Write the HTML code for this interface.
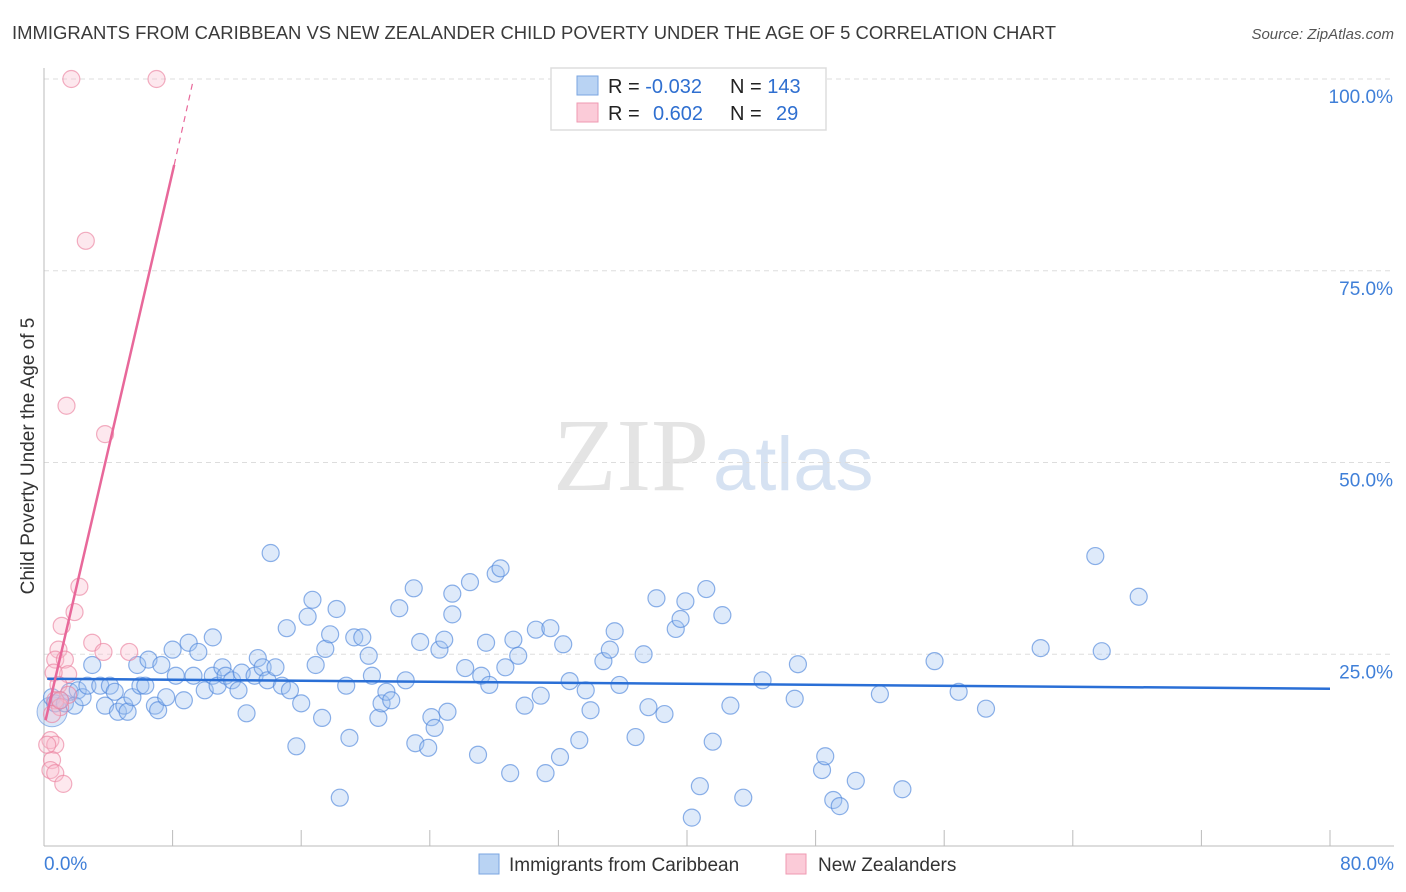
<!DOCTYPE html>
<html><head><meta charset="utf-8"><style>
body{margin:0;background:#fff;font-family:"Liberation Sans",sans-serif;}
svg{display:block}
</style></head><body>
<svg id="chart" width="1406" height="892">
<text x="12" y="39" font-size="18" fill="#3a3a3a" textLength="1044" lengthAdjust="spacingAndGlyphs">IMMIGRANTS FROM CARIBBEAN VS NEW ZEALANDER CHILD POVERTY UNDER THE AGE OF 5 CORRELATION CHART</text>
<text x="1394" y="39" font-size="15" fill="#555" font-style="italic" text-anchor="end">Source: ZipAtlas.com</text>
<text x="553" y="490" font-size="104" fill="#e4e4e4" font-family="Liberation Serif,serif">ZIP<tspan fill="#d6e2f2" font-family="Liberation Sans,sans-serif" font-size="76" dx="4">atlas</tspan></text>
<g id="grid"></g>
<g id="axes"></g>
<g id="pts"></g>
<g id="trend"></g>
<text transform="translate(34,456) rotate(-90)" font-size="19" fill="#333" text-anchor="middle">Child Poverty Under the Age of 5</text>
<g>
<rect x="551" y="68" width="275" height="62" fill="#fff" stroke="#ddd" stroke-width="1.5"/>
<rect x="577" y="76" width="21" height="19" fill="#b9d3f3" stroke="#7aa6e0"/>
<rect x="577" y="103" width="21" height="19" fill="#fbcbd8" stroke="#ef9ab2"/>
<text x="608" y="93" font-size="20" fill="#222">R = <tspan fill="#2f6fd0">-0.032</tspan></text>
<text x="730" y="93" font-size="20" fill="#222">N = <tspan fill="#2f6fd0">143</tspan></text>
<text x="608" y="120" font-size="20" fill="#222">R = <tspan fill="#2f6fd0" x="653">0.602</tspan></text>
<text x="730" y="120" font-size="20" fill="#222">N = <tspan fill="#2f6fd0" x="776">29</tspan></text>
</g>
<g>
<rect x="479" y="854" width="20" height="20" fill="#b9d3f3" stroke="#7aa6e0"/>
<text x="509" y="871" font-size="19" fill="#333">Immigrants from Caribbean</text>
<rect x="786" y="854" width="20" height="20" fill="#fbcbd8" stroke="#ef9ab2"/>
<text x="818" y="871" font-size="19" fill="#333">New Zealanders</text>
</g>
</svg>
<script>
const blueX=[0.5,0.7,1.0,1.3,1.6,2.1,1.9,2.4,3.0,2.7,3.5,3.8,4.1,4.4,4.6,5.0,5.2,5.5,6.0,5.8,6.3,6.5,6.9,7.1,7.3,7.6,8.0,8.2,8.7,9.0,9.3,9.6,10.0,10.5,10.5,10.8,11.1,11.3,11.7,12.1,12.3,12.6,13.1,13.3,13.6,13.9,14.1,14.4,14.8,15.1,15.3,15.7,16.0,16.4,16.7,16.9,17.3,17.5,17.8,18.2,18.4,18.8,19.0,19.3,19.8,20.2,20.4,20.8,21.0,21.3,21.6,22.1,22.5,23.0,23.1,23.4,23.9,24.1,24.3,24.6,24.9,25.1,25.4,25.4,26.2,26.5,27.0,27.2,27.5,27.7,28.1,28.4,28.7,29.0,29.2,29.5,29.9,30.6,30.9,31.2,31.5,32.1,32.3,32.7,33.3,33.7,34.0,34.8,35.2,35.5,35.8,36.8,37.3,37.6,38.1,38.6,39.3,39.6,39.9,40.3,40.8,41.2,41.6,42.2,42.7,43.5,44.7,46.7,46.9,48.4,48.6,49.1,49.5,50.5,52.0,53.4,55.4,56.9,58.6,62.0,65.4,65.8,68.1];
const blueY=[19.4,18.6,19.0,18.6,20.1,20.3,18.3,19.4,23.6,20.9,20.9,18.3,20.9,20.1,17.5,18.3,17.5,19.4,20.9,23.6,20.9,24.3,18.3,17.7,23.6,19.4,25.6,22.2,19.0,26.5,22.2,25.3,20.3,27.2,22.2,20.9,23.3,22.2,21.6,20.3,22.6,17.3,22.2,24.5,23.3,21.6,38.2,23.3,20.9,28.4,20.3,13.0,18.6,29.9,32.1,23.6,16.7,25.7,27.6,30.9,6.3,20.9,14.1,27.2,27.2,24.8,22.2,16.7,18.6,20.1,19.0,31.0,21.6,33.6,13.4,26.6,12.8,16.8,15.4,25.6,26.9,17.5,32.9,30.2,23.2,34.4,11.9,22.2,26.5,21.0,35.5,36.2,23.3,9.5,26.9,24.8,18.3,28.2,19.6,9.5,28.4,11.6,26.3,21.5,13.8,20.3,17.7,24.1,25.6,28.0,21.0,14.2,25.0,18.1,32.3,17.2,28.3,29.6,31.9,3.7,7.8,33.5,13.6,30.1,18.3,6.3,21.6,19.2,23.7,9.9,11.7,6.0,5.2,8.5,19.8,7.4,24.1,20.1,17.9,25.8,37.8,25.4,32.5];
const pinkX=[1.7,7.0,2.6,1.4,3.8,2.2,1.9,1.1,3.0,3.7,5.3,0.9,0.7,1.3,1.5,0.6,0.9,1.5,0.7,1.0,0.5,0.4,0.7,0.5,0.4,0.7,1.2,1.0,0.2];
const pinkY=[100.0,100.0,78.9,57.4,53.7,33.8,30.5,28.7,26.5,25.3,25.3,25.6,24.3,24.3,22.4,22.6,21.0,19.7,19.0,18.1,17.2,13.8,13.2,11.2,9.9,9.5,8.1,19.0,13.2];
const blueTrend=[[0.2,21.8],[80,20.5]];
const pinkTrend=[[0.1,16.4],[8.1,88.8],[9.3,100]];
const yTicks=[25,50,75,100];
const xTickVals=[0,8,16,24,32,40,48,56,64,72,80];

const NS='http://www.w3.org/2000/svg';
const X=v=>44+v/80*1286, Y=v=>846-v*7.67;
function mk(tag,attrs,parent){const e=document.createElementNS(NS,tag);for(const k in attrs)e.setAttribute(k,attrs[k]);document.getElementById(parent).appendChild(e);return e;}

yTicks.forEach(t=>{
  const g=mk('line',{x1:44,x2:1394,y1:Y(t),y2:Y(t),stroke:'#ddd','stroke-dasharray':'5,4'},'grid');
  
  
  const l=mk('text',{x:1393,y:Y(t)+24,'font-size':19,fill:'#3f7fd8','text-anchor':'end'},'axes');
  l.textContent=t.toFixed(1)+'%';
  
  
});
const ax=mk('line',{x1:44,x2:1394,y1:846,y2:846,stroke:'#bbb'},'axes');


const ay=mk('line',{x1:44,x2:44,y1:68,y2:846,stroke:'#bbb'},'axes');


xTickVals.forEach(t=>{
  const tk=mk('line',{x1:X(t),x2:X(t),y1:830,y2:846,stroke:'#bbb'},'axes');
  
  
});
[[0,'start'],[80,'end']].forEach(([t,a])=>{
  const l=mk('text',{x:t===0?44:1394,y:870,'font-size':19,fill:'#3f7fd8','text-anchor':a},'axes');
  l.textContent=t.toFixed(1)+'%';
  
  
});
const big=mk('circle',{cx:X(0.5),cy:Y(17.5),r:15,fill:'rgba(150,185,235,0.35)',stroke:'rgba(90,140,220,0.6)'},'pts');


blueX.forEach((x,i)=>{
  const c=mk('circle',{cx:X(x),cy:Y(blueY[i]),r:8.5,fill:'rgba(160,195,240,0.35)',stroke:'rgba(80,135,220,0.65)','stroke-width':1.2},'pts');
  
  
});
pinkX.forEach((x,i)=>{
  const c=mk('circle',{cx:X(x),cy:Y(pinkY[i]),r:8.5,fill:'rgba(248,190,205,0.35)',stroke:'rgba(235,130,160,0.65)','stroke-width':1.2},'pts');
  
  
});
const bt=mk('line',{x1:X(blueTrend[0][0]),y1:Y(blueTrend[0][1]),x2:X(blueTrend[1][0]),y2:Y(blueTrend[1][1]),stroke:'#2a6fd6','stroke-width':2.5},'trend');


const pt=mk('line',{x1:X(pinkTrend[0][0]),y1:Y(pinkTrend[0][1]),x2:X(pinkTrend[1][0]),y2:Y(pinkTrend[1][1]),stroke:'#e8689a','stroke-width':2.5},'trend');


const pd=mk('line',{x1:X(pinkTrend[1][0]),y1:Y(pinkTrend[1][1]),x2:X(pinkTrend[2][0]),y2:Y(pinkTrend[2][1]),stroke:'#e8689a','stroke-width':1.2,'stroke-dasharray':'6,5'},'trend');


</script>
</body></html>
